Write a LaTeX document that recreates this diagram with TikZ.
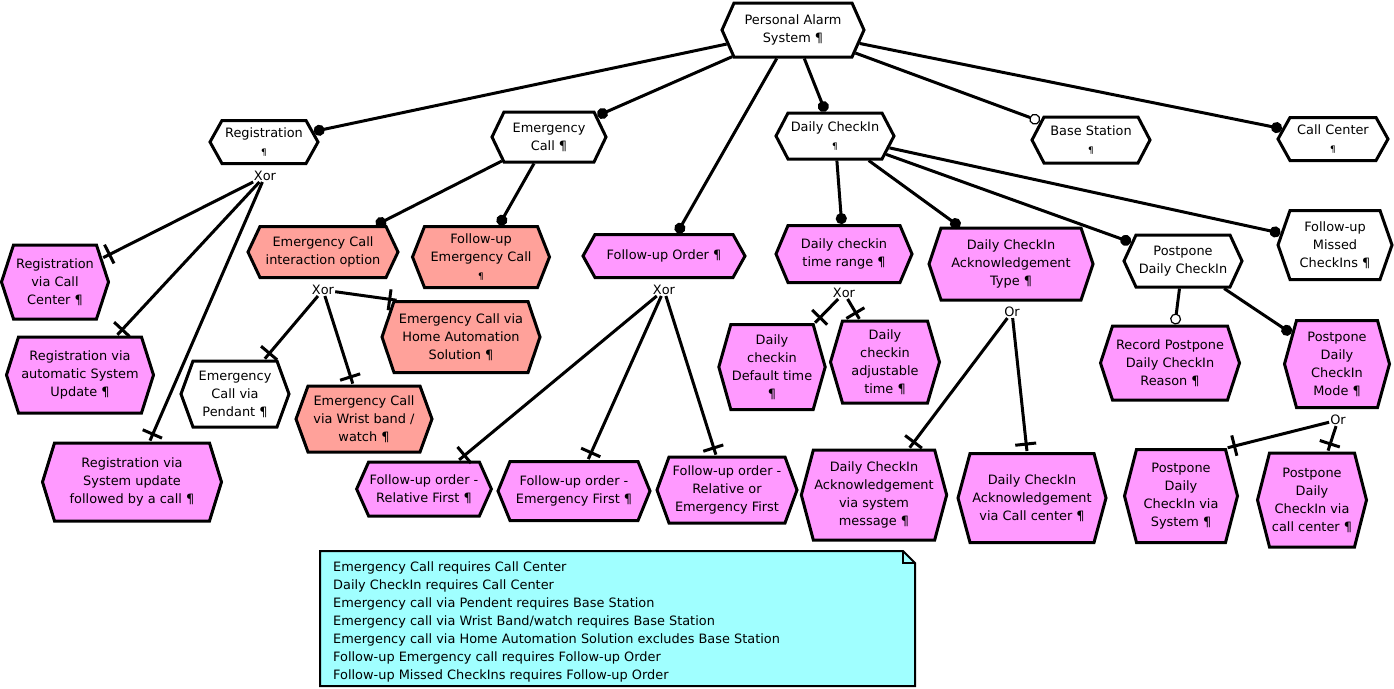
\documentclass[tikz,border=0pt]{standalone}
\usepackage{fontspec}
\setmainfont{DejaVu Sans}
\usetikzlibrary{shapes.symbols,arrows.meta,decorations.markings}
\definecolor{pinkfill}{HTML}{FF99FF}
\definecolor{redfill}{HTML}{FFA19A}
\definecolor{notefill}{HTML}{A0FFFF}
\newcommand{\smp}{{\fontsize{9}{9}\selectfont ¶}}
\begin{document}
\begin{tikzpicture}[x=1pt,y=-1pt,
  feat/.style n args={2}{signal, signal to=east and west,
    signal pointer angle={2*atan(#2/24)}, draw, line width=3pt,
    fill=white, align=center, inner sep=1pt,
    minimum width=#1pt, minimum height=#2pt,
    font=\fontsize{12.9}{18}\selectfont},
  pfeat/.style n args={2}{feat={#1}{#2}, fill=pinkfill},
  rfeat/.style n args={2}{feat={#1}{#2}, fill=redfill},
  conn/.style={line width=3pt},
  mand/.style={conn, -{Circle[length=11pt]}},
  opt/.style={conn, -{Circle[open, fill=white, length=11pt, line width=1.2pt]}},
  grp/.style={conn, shorten >=1pt, postaction=decorate,
    decoration={markings, mark=at position -8pt with
      {\draw[line width=3pt] (0pt,-11pt) -- (0pt,11pt);}}},
  gname/.style={inner sep=1pt, font=\fontsize{12.9}{14}\selectfont}]
\useasboundingbox (0,0) rectangle (1394,688);

% root and first level
\node[feat={142}{54}] (pas) at (793,30) {Personal Alarm\\System ¶};
\node[feat={108}{43}] (reg) at (264,142) {Registration\\\smp};
\node[feat={114}{50}] (ec) at (549,137) {Emergency\\Call ¶};
\node[pfeat={162}{43}] (fo) at (664,256) {Follow-up Order ¶};
\node[feat={118}{46}] (dci) at (835,136) {Daily CheckIn\\\smp};
\node[feat={118}{46}] (bs) at (1091,140) {Base Station\\\smp};
\node[feat={110}{43}] (cc) at (1333,139) {Call Center\\\smp};

% registration
\node[pfeat={107}{74}] (rcc) at (55,282) {Registration\\via Call\\Center ¶};
\node[pfeat={147}{76}] (rau) at (80,375) {Registration via\\automatic System\\Update ¶};
\node[pfeat={179}{78}] (rsu) at (132,482) {Registration via\\System update\\followed by a call ¶};

% emergency call
\node[rfeat={150}{51}] (ecio) at (323,252) {Emergency Call\\interaction option};
\node[rfeat={137}{61}] (fec) at (481,257) {Follow-up\\Emergency Call\\\smp};
\node[rfeat={158}{71}] (eha) at (461,337) {Emergency Call via\\Home Automation\\Solution ¶};
\node[feat={108}{66}] (ecp) at (235,394) {Emergency\\Call via\\Pendant ¶};
\node[rfeat={136}{66}] (ecw) at (364,419) {Emergency Call\\via Wrist band /\\watch ¶};

% follow-up order
\node[pfeat={132}{54}] (forf) at (424,489) {Follow-up order -\\Relative First ¶};
\node[pfeat={152}{59}] (foef) at (574,491) {Follow-up order -\\Emergency First ¶};
\node[pfeat={140}{66}] (fore) at (727,490) {Follow-up order -\\Relative or\\Emergency First};

% daily checkin
\node[pfeat={136}{57}] (dctr) at (844,254) {Daily checkin\\time range ¶};
\node[pfeat={164}{72}] (dcat) at (1011,264) {Daily CheckIn\\Acknowledgement\\Type ¶};
\node[feat={118}{52}] (pdc) at (1183,261) {Postpone\\Daily CheckIn};
\node[feat={114}{69}] (fmc) at (1335,245) {Follow-up\\Missed\\CheckIns ¶};
\node[pfeat={104}{85}] (dcdt) at (772,367) {Daily\\checkin\\Default time\\¶};
\node[pfeat={109}{82}] (dcat2) at (885,362) {Daily\\checkin\\adjustable\\time ¶};
\node[pfeat={139}{74}] (rpr) at (1170,363) {Record Postpone\\Daily CheckIn\\Reason ¶};
\node[pfeat={105}{87}] (pdm) at (1337,364) {Postpone\\Daily\\CheckIn\\Mode ¶};
\node[pfeat={145}{90}] (dsm) at (874,495) {Daily CheckIn\\Acknowledgement\\via system\\message ¶};
\node[pfeat={148}{89}] (dccc) at (1032,498) {Daily CheckIn\\Acknowledgement\\via Call center ¶};
\node[pfeat={113}{93}] (pds) at (1181,496) {Postpone\\Daily\\CheckIn via\\System ¶};
\node[pfeat={109}{94}] (pdcc) at (1312,500) {Postpone\\Daily\\CheckIn via\\call center ¶};

% group labels
\node[gname] (regx) at (265,176) {Xor};
\node[gname] (ecx) at (323,290) {Xor};
\node[gname] (fox) at (664,290) {Xor};
\node[gname] (dcx) at (844,293) {Xor};
\node[gname] (ackx) at (1012,312) {Or};
\node[gname] (pdmx) at (1338,420) {Or};

% connectors
\draw[mand] (pas) -- (reg);
\draw[mand] (pas) -- (ec);
\draw[mand] (pas) -- (fo);
\draw[mand] (pas) -- (dci);
\draw[opt] (pas) -- (bs);
\draw[mand] (pas) -- (cc);
\draw[mand] (ec) -- (ecio);
\draw[mand] (ec) -- (fec);
\draw[mand] (dci) -- (dctr);
\draw[mand] (dci) -- (dcat);
\draw[mand] (dci) -- (pdc);
\draw[mand] (dci) -- (fmc);
\draw[opt] (pdc) -- (rpr);
\draw[mand] (pdc) -- (pdm);

\draw[grp] (regx) -- (rcc);
\draw[grp] (regx) -- (rau);
\draw[grp] (regx) -- (rsu);
\draw[grp] (ecx) -- (ecp);
\draw[grp] (ecx) -- (ecw);
\draw[grp] (ecx) -- (eha.150);
\draw[grp] (fox) -- (forf);
\draw[grp] (fox) -- (foef);
\draw[grp] (fox) -- (fore);
\draw[grp] (dcx) -- (dcdt);
\draw[grp] (dcx) -- (dcat2);
\draw[grp] (ackx) -- (dsm);
\draw[grp] (ackx) -- (dccc);
\draw[grp] (pdmx) -- (pds.north east);
\draw[grp] (pdmx) -- (pdcc);

% constraint note
\draw[line width=2pt, fill=notefill] (320,551) -- (903,551) -- (915,563) -- (915,686) -- (320,686) -- cycle;
\draw[line width=2pt] (903,551) -- (903,563) -- (915,563);
\node[anchor=north west, align=left, inner sep=0pt, font=\fontsize{12.9}{18}\selectfont] (note) at (333,561)
  {Emergency Call requires Call Center\\
   Daily CheckIn requires Call Center\\
   Emergency call via Pendent requires Base Station\\
   Emergency call via Wrist Band/watch requires Base Station\\
   Emergency call via Home Automation Solution excludes Base Station\\
   Follow-up Emergency call requires Follow-up Order\\
   Follow-up Missed CheckIns requires Follow-up Order};
\end{tikzpicture}
\end{document}
